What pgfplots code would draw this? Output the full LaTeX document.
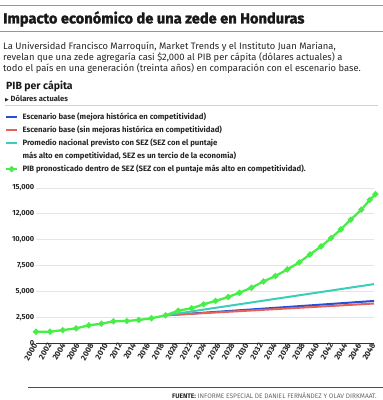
\documentclass[border=0pt]{standalone}
\usepackage{pgfplots}
\pgfplotsset{compat=1.18}
\usepackage{fontspec}
\setmainfont{Fira Sans}
\newfontfamily\heavyfont{Fira Sans}[BoldFeatures={FakeBold=1.6}]
\IfFontExistsTF{FiraSans-SemiBold.otf}{\newfontfamily\semib{FiraSans-SemiBold.otf}}{\newcommand\semib{\bfseries}}
\newfontfamily\dejavu{DejaVu Sans}
\definecolor{cblue}{RGB}{35,80,215}
\definecolor{cred}{RGB}{232,96,90}
\definecolor{cteal}{RGB}{60,205,185}
\definecolor{cgreen}{RGB}{72,238,72}
\definecolor{rulec}{RGB}{150,150,150}
\begin{document}
\begin{tikzpicture}
\useasboundingbox (0,0) rectangle (383bp,-400bp);
\begin{scope}[x=1bp,y=-1bp]
\draw[rulec, line width=0.9bp] (0,5) -- (383,5);
\node[anchor=west, inner sep=0, text=black!90] at (3,19) {\heavyfont\bfseries\fontsize{14.7}{18}\selectfont Impacto económico de una zede en Honduras};
\draw[rulec, line width=0.9bp] (0,31) -- (383,31);
\node[anchor=north west, inner sep=0, align=left, text=black!85, font=\fontsize{9.4}{9.6}\selectfont] at (3,41.5) {La Universidad Francisco Marroquín, Market Trends y el Instituto Juan Mariana,\\revelan que una zede agregaría casi \$2,000 al PIB per cápita (dólares actuales) a\\todo el país en una generación (treinta años) en comparación con el escenario base.};
\node[anchor=west, inner sep=0, text=black!90] at (6,86.5) {\bfseries\fontsize{10.5}{12}\selectfont PIB per cápita};
\node[anchor=west, inner sep=0, text=black!85] at (5,99) {{\dejavu\fontsize{5}{6}\selectfont ▶}\,{\semib\fontsize{7.6}{9}\selectfont Dólares actuales}};
\draw[black!18, line width=0.8bp] (5,105) -- (378,105);
\draw[black!70, line width=0.8bp] (28,387) -- (383,387);
\node[anchor=east, inner sep=0, text=black!60] at (377,396) {\fontsize{6.6}{7}\selectfont{\bfseries\color{black!85}FUENTE:} INFORME ESPECIAL DE DANIEL FERNÁNDEZ Y OLAV DIRKMAAT.};
\end{scope}
\begin{axis}[
  at={(36bp,-343bp)}, anchor=south west,
  scale only axis, width=338bp, height=155bp,
  xmin=2000, xmax=2048, ymin=0, ymax=15000,
  clip=false, scaled y ticks=false, scaled x ticks=false,
  axis lines=left, axis line style={-},
  y axis line style={draw=none},
  x axis line style={draw=black!80, line width=1bp},
  major tick length=0pt,
  ymajorgrids, grid style={black!10, line width=0.8bp},
  ytick={0,2500,5000,7500,10000,12500,15000},
  yticklabels={0,{2,500},{5,000},{7,500},{10,000},{12,000},{15,000}},
  xtick={2000,2002,...,2048},
  xticklabel style={rotate=60, anchor=east, inner sep=1bp, font=\fontsize{8}{8}\semib, /pgf/number format/1000 sep={}},
  yticklabel style={inner sep=1.5bp, font=\fontsize{7.4}{8}\semib},
  tick label style={text=black!85},
  /pgf/number format/assume math mode=true,
  legend cell align=left,
  legend style={at={(axis description cs:-0.0917,1.494)}, anchor=north west, draw=none, fill=none,
    inner sep=0pt, outer sep=0pt, row sep=2.0bp, column sep=3.2bp,
    cells={anchor=base west}, nodes={inner sep=1bp},
    font=\fontsize{7.8}{10.7}\selectfont\semib, text=black!85},
  legend image code/.code={\draw[mark repeat=2,mark phase=2,#1] plot coordinates {(0bp,2.6bp) (5.5bp,2.6bp) (11bp,2.6bp)};},
]
\addplot[cblue, line width=2bp, no markers] coordinates {(2018.4,2680) (2033,3360) (2048,4070)};
\addlegendentry{\begin{tabular}[t]{@{}l@{}}Escenario base (mejora histórica en competitividad)\end{tabular}}
\addplot[cred, line width=2bp, no markers] coordinates {(2018.4,2680) (2033,3240) (2048,3820)};
\addlegendentry{\begin{tabular}[t]{@{}l@{}}Escenario base (sin mejoras histórica en competitividad)\end{tabular}}
\addplot[cteal, line width=2bp, no markers] coordinates {(2018.4,2680) (2033,4170) (2048,5700)};
\addlegendentry{\begin{tabular}[t]{@{}l@{}}Promedio nacional previsto con SEZ (SEZ con el puntaje\end{tabular}}
\addlegendimage{empty legend}
\addlegendentry{\begin{tabular}[t]{@{}l@{}}más alto en competitividad, SEZ es un tercio de la economía)\end{tabular}}
\addplot[cgreen, line width=2.3bp, mark=*, mark size=1.7bp, mark options={fill=cgreen, draw=cgreen}] coordinates {
(2000,1090) (2002.0,1090) (2003.8,1250) (2005.7,1420) (2007.5,1710) (2009.3,1870)
(2011.0,2100) (2012.9,2130) (2014.6,2230) (2016.4,2390) (2018.4,2680) (2020.2,3130)
(2022.1,3360) (2023.8,3750) (2025.5,4070) (2027.3,4450) (2028.9,4870) (2030.6,5350)
(2032.3,5950) (2034.0,6480) (2035.7,7120) (2037.4,7810) (2038.9,8570) (2040.5,9350)
(2041.9,10150) (2043.3,11000) (2044.7,11940) (2046.2,12900) (2047.4,13850) (2048.2,14400)};
\addlegendentry{\begin{tabular}[t]{@{}l@{}}PIB pronosticado dentro de SEZ (SEZ con el puntaje más alto en competitividad).\end{tabular}}
\end{axis}
\end{tikzpicture}
\end{document}
